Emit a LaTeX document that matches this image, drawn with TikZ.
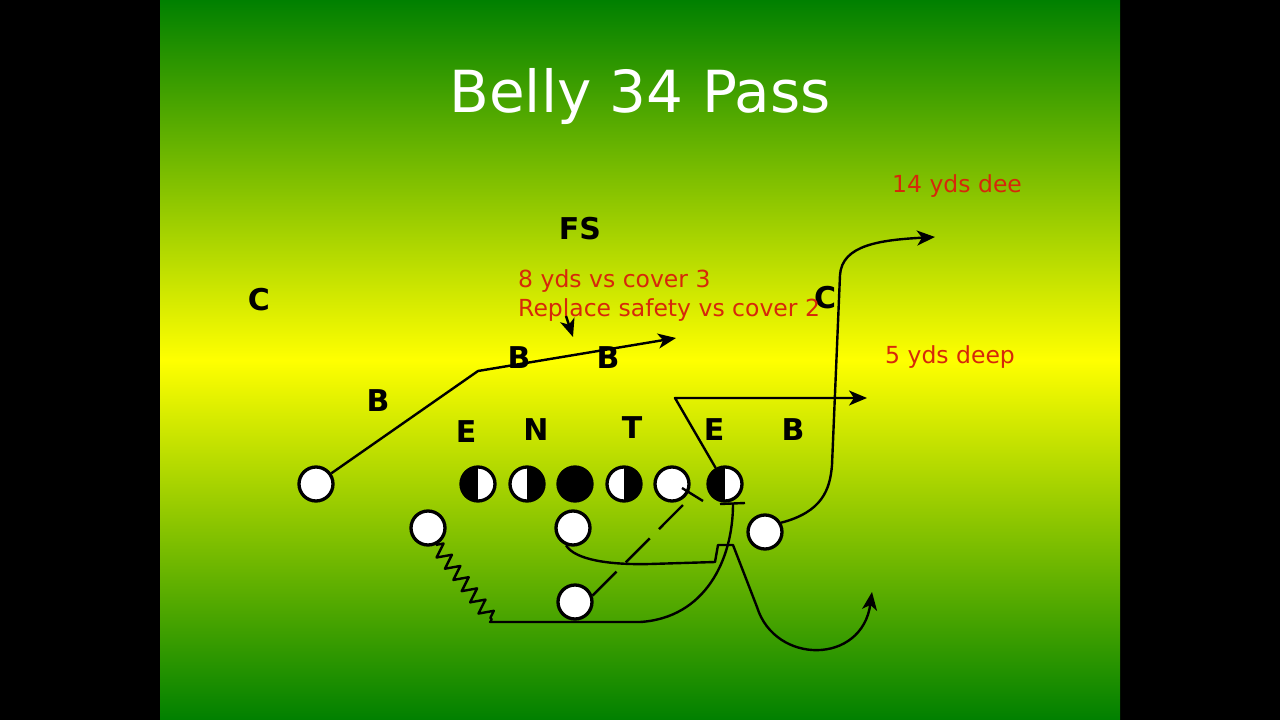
\documentclass[tikz,border=0pt]{standalone}
\usepackage{fontspec}
\setmainfont{DejaVu Sans}
\usetikzlibrary{arrows.meta,decorations.pathmorphing}
\definecolor{callred}{RGB}{214,40,10}
\definecolor{slidegreen}{RGB}{0,128,0}
\begin{document}
\begin{tikzpicture}[x=1pt, y=-1pt,
                man/.style={circle, draw, line width=3.3pt, fill=white, minimum size=34pt, inner sep=0pt},
                dark/.style={man, fill=black},
                halfl/.style={man, path picture={\fill[black] (path picture bounding box.south west) rectangle (path picture bounding box.north);}},
                halfr/.style={man, path picture={\fill[black] (path picture bounding box.south) rectangle (path picture bounding box.north east);}},
                dman/.style={font=\fontsize{30}{36}\selectfont\bfseries, inner sep=0pt},
                note/.style={font=\fontsize{23.5}{28}\selectfont, text=callred, anchor=base west, inner sep=0pt},
                route/.style={line width=2.4pt, line join=round},
                tip/.style={-{Stealth[length=18pt, width=15pt, inset=5pt]}}
            ]
                \useasboundingbox (0,0) rectangle (1280,720);
                \fill[black] (0,0) rectangle (1280,720);
                \shade[top color=slidegreen, bottom color=slidegreen, middle color=yellow] (160,0) rectangle (1120,720);
                \node[anchor=base, text=white, font=\fontsize{58}{70}\selectfont, inner sep=0pt] (title) at (640,112) {Belly 34 Pass};
                % defense
                \node[dman] (cl) at (259,300) {C};
                \node[dman] (fs) at (580,229) {FS};
                \node[dman] (cr) at (825,298) {C};
                \node[dman] (bl) at (378,401) {B};
                \node[dman] (bml) at (519,358) {B};
                \node[dman] (bmr) at (608,358) {B};
                \node[dman] (el) at (466,432) {E};
                \node[dman] (nt) at (536,430) {N};
                \node[dman] (tk) at (632,428) {T};
                \node[dman] (er) at (714,430) {E};
                \node[dman] (br) at (793,430) {B};
                % calls
                \node[note] (cover) at (518,287) {8 yds vs cover 3};
                \node[note] (safety) at (518,316) {Replace safety vs cover 2};
                \node[note] (deep14) at (892,192) {14 yds dee};
                \node[note] (deep5) at (885,363) {5 yds deep};
                % offense
                \node[man] (wrl) at (316,484) {};
                \node[halfl] (lt) at (478,484) {};
                \node[halfr] (lg) at (527,484) {};
                \node[dark] (cen) at (575,484) {};
                \node[halfr] (rg) at (624,484) {};
                \node[man] (rt) at (672,484) {};
                \node[halfl] (te) at (725,484) {};
                \node[man] (hb) at (428,528) {};
                \node[man] (qb) at (573,528) {};
                \node[man] (fb) at (575,602) {};
                \node[man] (wing) at (765,532) {};
                % route points
                \coordinate (wrbrk) at (478,371);
                \coordinate (wrend) at (676,338);
                \coordinate (fsdrop) at (566,316);
                \coordinate (fsend) at (573,337);
                \coordinate (tebrk) at (675,398);
                \coordinate (teend) at (867,398);
                \coordinate (zzend) at (492,620);
                \coordinate (blkl) at (720,504);
                \coordinate (blkr) at (745,503);
                \coordinate (rthit) at (689,499);
                \coordinate (rtl) at (682,488);
                \coordinate (rtr) at (703,501);
                \coordinate (wingend) at (935,237);
                \coordinate (qbend) at (872,592);
                % routes
                \draw[route, tip] (wrl) -- (wrbrk) -- (wrend);
                \draw[route, tip] (fsdrop) -- (fsend);
                \draw[route, tip] (te) -- (tebrk) -- (teend);
                \draw[route, tip] (wing.30) .. controls (822,512) and (830,490) .. (832,465)
                    -- (840,275) .. controls (842,245) and (880,240) .. (wingend);
                \draw[route, decorate, decoration={zigzag, segment length=14pt, amplitude=7pt}] (hb.-65) -- (zzend);
                \draw[route] (zzend) -- (490,622) -- (640,622) .. controls (705,618) and (733,560) .. (733,504);
                \draw[route] (blkl) -- (blkr);
                \draw[route, tip] (qb.-112) .. controls (575,560) and (610,565) .. (650,564) -- (715,562) -- (718,545)
                    -- (733,545) -- (757,607) .. controls (775,665) and (862,665) .. (qbend);
                \draw[route, dash pattern=on 34pt off 13pt] (fb.20) -- (rthit);
                \draw[route] (rtl) -- (rtr);
            \end{tikzpicture}
\end{document}
